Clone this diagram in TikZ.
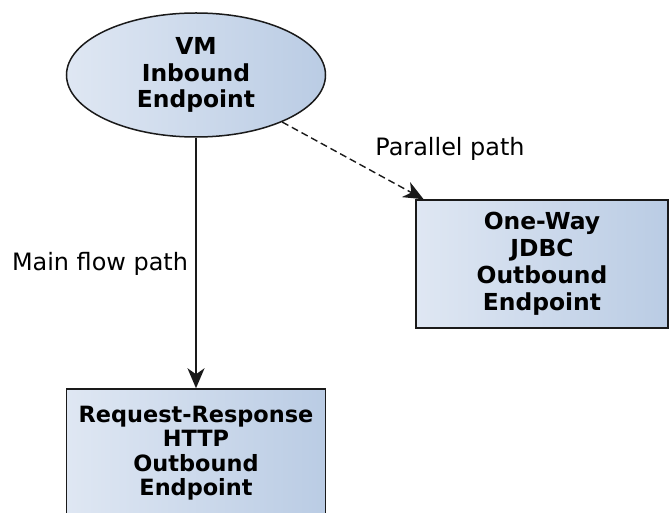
\documentclass[tikz,border=0pt]{standalone}
\usepackage{xcolor}
\usepackage{fontspec}
\setmainfont{DejaVu Sans}
\usepackage{tikz}
\usetikzlibrary{arrows.meta,shapes,shapes.geometric}
\usetikzlibrary{positioning, quotes}

\definecolor{epleft}{HTML}{DFE7F3}
\definecolor{epright}{HTML}{BACCE4}
\definecolor{epline}{HTML}{1A1A1A}

\begin{document}
\begin{tikzpicture}[x=1bp,y=-1bp]
            \tikzstyle{endpoint}=[draw=epline,line width=1.5bp,left color=epleft,right color=epright,align=center,inner sep=0pt,font=\bfseries\fontsize{23.5}{27}\selectfont];
            \tikzstyle{flow}=[draw=epline,line width=1.4bp,-{Stealth[length=20bp,width=17bp,inset=6bp]}];
            \tikzstyle{lbl}=[font=\fontsize{24}{28}\selectfont];
            \useasboundingbox (0,0) rectangle (670,513);
            \node[endpoint,ellipse,minimum width=259bp,minimum height=124bp] (vm) at (196,75) {VM\\Inbound\\Endpoint};
            \node[endpoint,rectangle,minimum width=252bp,minimum height=128bp] (jdbc) at (542,264) {One-Way\\JDBC\\Outbound\\Endpoint};
            \node[endpoint,rectangle,minimum width=259bp,minimum height=128bp,font=\bfseries\fontsize{22.5}{24.5}\selectfont] (http) at (196,453) {Request-Response\\HTTP\\Outbound\\Endpoint};
            \node[lbl] (mainlbl) at (100,264) {Main flow path};
            \node[lbl] (parlbl) at (450,149) {Parallel path};
            \path[draw] [flow] (vm) -- (http);
            \path[draw] [flow,dash pattern=on 7bp off 4bp] (vm) -- (jdbc);
        \end{tikzpicture}
\end{document}
